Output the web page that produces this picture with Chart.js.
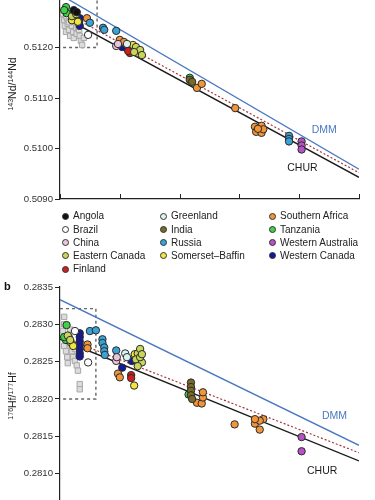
<!DOCTYPE html>
<html>
<head>
<meta charset="utf-8">
<script src="https://cdn.jsdelivr.net/npm/chart.js@4.4.0/dist/chart.umd.min.js"></script>
<style>
  body { margin: 0; background: #fff; font-family: "Liberation Sans", Arial, sans-serif; }
  #wrap { position: relative; width: 375px; height: 500px; overflow: hidden; }
  #c1 { position: absolute; left: 0; top: -13px; }
  #c2 { position: absolute; left: 0; top: 277px; }
  .ytitle { position: absolute; transform: translate(-50%, -50%) rotate(-90deg); font-size: 10.5px; white-space: nowrap; color: #222; }
  .ytitle sup { font-size: 7px; vertical-align: 3.5px; line-height: 0; }
  .panel { position: absolute; font-weight: bold; font-size: 11px; color: #111; }
  .item { position: absolute; font-size: 10px; line-height: 13px; height: 13px; white-space: nowrap; color: #222; }
  .dot { display: inline-block; box-sizing: border-box; width: 7px; height: 7px; border-radius: 50%; border: 1px solid #333; margin-right: 4px; vertical-align: -0.5px; }
</style>
</head>
<body>
<div id="wrap">
  <canvas id="c1" width="375" height="225"></canvas>
  <canvas id="c2" width="375" height="250"></canvas>
  <div class="ytitle" style="left:12px;top:84px"><sup>143</sup>Nd/<sup>144</sup>Nd</div>
  <div class="ytitle" style="left:12px;top:396px"><sup>176</sup>Hf/<sup>177</sup>Hf</div>
  <div class="panel" style="left:4px;top:280px">b</div>
  <div id="legend"></div>
</div>
<script>
// sample groups (legend order, column by column)
const categories = ['Angola', 'Brazil', 'China', 'Eastern Canada', 'Finland',
  'Greenland', 'India', 'Russia', 'Somerset\u2013Baffin',
  'Southern Africa', 'Tanzania', 'Western Australia', 'Western Canada'];
const fills = ['#111111', '#ffffff', '#eac6de', '#c8d65c', '#cc1f1f',
  '#d9f2f2', '#7a6a2a', '#3aa3d6', '#f2e63c',
  '#f0953a', '#3fd146', '#b653c4', '#12199c'];

// 143Nd/144Nd panel, [x, ratio]
const ndAngola = [[0.23, 0.51274], [0.28, 0.51270]];
const ndBrazil = [[0.47, 0.51225]];
const ndChina = [[0.94, 0.51203], [0.97, 0.51207]];
const ndEasternCanada = [[0.20, 0.51262], [0.27, 0.51266], [1.27, 0.51201], [1.34, 0.51195], [1.37, 0.51185], [1.24, 0.51191]];
const ndFinland = [[1.17, 0.51189], [1.14, 0.51193]];
const ndGreenland = [[1.12, 0.51207]];
const ndIndia = [[2.17, 0.51136], [2.21, 0.51132]];
const ndRussia = [[0.50, 0.51249], [0.72, 0.51239], [0.74, 0.51235], [0.94, 0.51233], [3.83, 0.51025], [3.83, 0.51019], [3.83, 0.51014]];
const ndSomerset = [[0.20, 0.51254], [0.30, 0.51251], [1.22, 0.51205], [1.30, 0.51189]];
const ndSouthernAfrica = [[0.45, 0.51258], [1.00, 0.51215], [1.07, 0.51211], [2.29, 0.51120], [2.37, 0.51128], [2.93, 0.51080],
  [3.26, 0.51043], [3.37, 0.51045], [3.28, 0.51033], [3.37, 0.51031], [3.40, 0.51038], [3.31, 0.51039]];
const ndTanzania = [[0.10, 0.51280], [0.11, 0.51268], [0.07, 0.51274], [2.17, 0.51140]];
const ndWesternAustralia = [[4.04, 0.51014], [4.04, 0.51006], [4.04, 0.50998]];
const ndWesternCanada = [[0.33, 0.51258], [0.32, 0.51251], [0.33, 0.51243], [1.04, 0.51201], [1.17, 0.51203], [1.10, 0.51207]];
const ndGray = [[0.05, 0.51266], [0.07, 0.51254], [0.08, 0.51243], [0.10, 0.51231], [0.12, 0.51258], [0.13, 0.51247],
  [0.15, 0.51235], [0.17, 0.51223], [0.20, 0.51243], [0.22, 0.51231], [0.23, 0.51219], [0.27, 0.51239],
  [0.28, 0.51227], [0.32, 0.51235], [0.33, 0.51223], [0.35, 0.51213], [0.37, 0.51205], [0.40, 0.51219],
  [0.18, 0.51254], [0.25, 0.51251], [0.10, 0.51262], [0.15, 0.51250], [0.30, 0.51241]];

// 176Hf/177Hf panel, [x, ratio]
const hfAngola = [];
const hfBrazil = [[0.25, 0.28291], [0.47, 0.28249]];
const hfChina = [[0.94, 0.28251], [0.95, 0.28256]];
const hfEasternCanada = [[0.13, 0.28285], [0.17, 0.28279], [1.30, 0.28261], [1.34, 0.28267], [1.27, 0.28253],
  [1.37, 0.28249], [1.30, 0.28244], [1.34, 0.28256], [1.37, 0.28260]];
const hfFinland = [[1.19, 0.28232], [1.19, 0.28228]];
const hfGreenland = [[1.09, 0.28261], [1.12, 0.28256]];
const hfIndia = [[2.19, 0.28222], [2.19, 0.28216], [2.19, 0.28211], [2.19, 0.28205], [2.21, 0.28200]];
const hfRussia = [[0.50, 0.28291], [0.60, 0.28292], [0.71, 0.28280], [0.71, 0.28275], [0.74, 0.28269], [0.74, 0.28264],
  [0.75, 0.28259], [0.94, 0.28265]];
const hfSomerset = [[0.18, 0.28276], [0.22, 0.28271], [1.25, 0.28260], [1.24, 0.28218]];
const hfSouthernAfrica = [[0.46, 0.28273], [0.46, 0.28268], [0.97, 0.28234], [1.00, 0.28229], [2.29, 0.28195], [2.37, 0.28194],
  [2.39, 0.28202], [2.39, 0.28209], [2.92, 0.28166], [3.26, 0.28167], [3.34, 0.28159], [3.40, 0.28173],
  [3.34, 0.28171], [3.26, 0.28173]];
const hfTanzania = [[0.11, 0.28299], [0.10, 0.28279], [0.15, 0.28282], [0.07, 0.28283], [2.15, 0.28206]];
const hfWesternAustralia = [[4.04, 0.28149], [4.04, 0.28130]];
const hfWesternCanada = [[0.33, 0.28288], [0.33, 0.28283], [0.33, 0.28277], [0.33, 0.28272], [0.33, 0.28267],
  [0.33, 0.28261], [0.33, 0.28257], [1.04, 0.28242], [1.20, 0.28251]];
const hfGray = [[0.07, 0.28310], [0.07, 0.28300], [0.05, 0.28291], [0.08, 0.28280], [0.07, 0.28271], [0.10, 0.28264],
  [0.12, 0.28256], [0.13, 0.28248], [0.17, 0.28273], [0.20, 0.28264], [0.22, 0.28256], [0.25, 0.28251],
  [0.28, 0.28245], [0.30, 0.28238], [0.33, 0.28220], [0.33, 0.28213], [0.17, 0.28293], [0.25, 0.28267]];

// evolution lines, value at x = 0 and x = 5
const lineX = [0, 5];
const ndDMM = [0.51305, 0.50959];
const ndCHUR = [0.51264, 0.50943];
const ndModel = [0.51274, 0.50952];
const hfDMM = [0.28333, 0.28138];
const hfCHUR = [0.28280, 0.28117];
const hfModel = [0.28284, 0.28128];

// dashed boxes around the grey data
const ndBox = [[0.62, 0.5140], [0.62, 0.5120], [0, 0.5120]];
const hfBox = [[0, 0.28321], [0.60, 0.28321], [0.60, 0.2820], [0, 0.2820]];

const ndSets = [ndAngola, ndBrazil, ndChina, ndEasternCanada, ndFinland, ndGreenland, ndIndia, ndRussia,
  ndSomerset, ndSouthernAfrica, ndTanzania, ndWesternAustralia, ndWesternCanada];
const hfSets = [hfAngola, hfBrazil, hfChina, hfEasternCanada, hfFinland, hfGreenland, hfIndia, hfRussia,
  hfSomerset, hfSouthernAfrica, hfTanzania, hfWesternAustralia, hfWesternCanada];

Chart.defaults.font.family = '"Liberation Sans", Arial, sans-serif';
Chart.defaults.color = '#222';

const toXY = arr => arr.map(p => ({ x: p[0], y: p[1] }));

const innerTicks = {
  id: 'innerTicks',
  afterDraw(chart) {
    const xs = chart.scales.x;
    const ctx = chart.ctx;
    const b = chart.chartArea.bottom;
    ctx.save();
    ctx.strokeStyle = '#222';
    ctx.lineWidth = 1;
    xs.ticks.forEach(t => {
      const px = Math.round(xs.getPixelForValue(t.value)) + 0.5;
      ctx.beginPath();
      ctx.moveTo(px, b);
      ctx.lineTo(px, b - 5);
      ctx.stroke();
    });
    ctx.restore();
  }
};

const lineLabels = {
  id: 'lineLabels',
  afterDatasetsDraw(chart, args, opts) {
    const ctx = chart.ctx;
    ctx.save();
    ctx.font = '10.5px "Liberation Sans", Arial, sans-serif';
    ctx.textBaseline = 'middle';
    (opts.items || []).forEach(it => {
      ctx.fillStyle = it.color;
      ctx.fillText(it.text, chart.scales.x.getPixelForValue(it.x), chart.scales.y.getPixelForValue(it.y));
    });
    ctx.restore();
  }
};

function makeDatasets(sets, gray, dmm, chur, model, box) {
  const ds = [];
  sets.forEach((s, i) => {
    ds.push({
      type: 'scatter', label: categories[i], data: toXY(s), order: 0,
      backgroundColor: fills[i], borderColor: '#2a2a2a', borderWidth: 1, pointRadius: 3.7
    });
  });
  ds.push({
    type: 'scatter', label: 'grey', data: toXY(gray), order: 1, pointStyle: 'rect',
    backgroundColor: '#dcdcdc', borderColor: '#a8a8a8', borderWidth: 1, pointRadius: 3.8
  });
  ds.push({ type: 'line', label: 'DMM', data: lineX.map((x, i) => ({ x: x, y: dmm[i] })), order: 2,
    borderColor: '#4a78c0', borderWidth: 1.3, pointRadius: 0 });
  ds.push({ type: 'line', label: 'CHUR', data: lineX.map((x, i) => ({ x: x, y: chur[i] })), order: 2,
    borderColor: '#1a1a1a', borderWidth: 1.4, pointRadius: 0 });
  ds.push({ type: 'line', label: 'model', data: lineX.map((x, i) => ({ x: x, y: model[i] })), order: 2,
    borderColor: '#a8343a', borderWidth: 1.2, borderDash: [2, 2], pointRadius: 0 });
  ds.push({ type: 'line', label: 'box', data: toXY(box), order: 3,
    borderColor: '#666', borderWidth: 1.4, borderDash: [3, 3], pointRadius: 0 });
  return ds;
}

function makeChart(id, datasets, yMin, yMax, step, pad, labels) {
  return new Chart(document.getElementById(id), {
    data: { datasets: datasets },
    options: {
      responsive: false,
      animation: false,
      layout: { padding: pad },
      plugins: { legend: { display: false }, tooltip: { enabled: false }, lineLabels: { items: labels } },
      scales: {
        x: {
          type: 'linear', min: 0, max: 5,
          ticks: { display: false, stepSize: 1 },
          grid: { display: true, drawOnChartArea: false, drawTicks: false },
          border: { color: '#222', width: 1.2 },
          afterFit: s => { s.height = 0; }
        },
        y: {
          type: 'linear', min: yMin, max: yMax,
          ticks: { stepSize: step, padding: 2, color: '#333', font: { size: 9.6 },
            callback: v => v.toFixed(4) },
          grid: { drawOnChartArea: false, tickLength: 5, color: '#222' },
          border: { color: '#222', width: 1.2 },
          afterFit: s => { s.width = 60; }
        }
      }
    },
    plugins: [innerTicks, lineLabels]
  });
}

makeChart('c1', makeDatasets(ndSets, ndGray, ndDMM, ndCHUR, ndModel, ndBox),
  0.5090, 0.5130, 0.001, { top: 10, bottom: 13, left: 0, right: 16 },
  [{ text: 'DMM', x: 4.21, y: 0.51037, color: '#4a78c0' }, { text: 'CHUR', x: 3.80, y: 0.50961, color: '#1a1a1a' }]);

makeChart('c2', makeDatasets(hfSets, hfGray, hfDMM, hfCHUR, hfModel, hfBox),
  0.2805, 0.2835, 0.0005, { top: 10, bottom: 16, left: 0, right: 16 },
  [{ text: 'DMM', x: 4.38, y: 0.28177, color: '#4a78c0' }, { text: 'CHUR', x: 4.13, y: 0.28103, color: '#1a1a1a' }]);

// legend, three columns filled top to bottom
const legendCols = [[0, 1, 2, 3, 4], [5, 6, 7, 8], [9, 10, 11, 12]];
const colLeft = [62, 160, 269];
const rowTop = [209, 222.5, 235.5, 248.5, 262];
const legend = document.getElementById('legend');
legendCols.forEach((col, c) => {
  col.forEach((k, r) => {
    const d = document.createElement('div');
    d.className = 'item';
    d.style.left = colLeft[c] + 'px';
    d.style.top = rowTop[r] + 'px';
    d.innerHTML = '<span class="dot" style="background:' + fills[k] + '"></span>' + categories[k];
    legend.appendChild(d);
  });
});
</script>
</body>
</html>
